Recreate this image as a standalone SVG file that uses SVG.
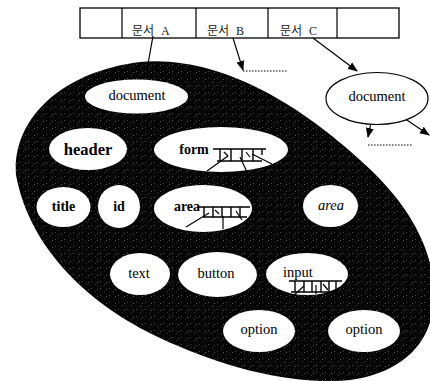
<svg xmlns="http://www.w3.org/2000/svg" width="430" height="381" viewBox="0 0 430 381">
<style>
.lbl{font-family:"Liberation Serif","Times New Roman",serif;font-size:14.5px;fill:#000;text-anchor:middle}
.b{font-weight:bold;font-size:14px}
.ko{font-family:"Liberation Serif","Noto Sans CJK KR",serif;font-size:12px;fill:#222;word-spacing:4px}
.node{fill:#fff}
.ln{stroke:#000;stroke-width:1.2;fill:none}
.lad{stroke:#000;stroke-width:1.4;fill:none}
</style>
<defs>
<marker id="ah" markerWidth="10" markerHeight="10" refX="9" refY="5" orient="auto" markerUnits="userSpaceOnUse">
<path d="M0,1 L10,5 L0,9 Z" fill="#000"/>
</marker>
<pattern id="dots" width="9" height="7" patternUnits="userSpaceOnUse">
<rect x="1" y="1" width="1" height="1" fill="#777"/>
<rect x="5" y="4" width="1" height="1" fill="#555"/>
<rect x="7" y="2" width="1" height="1" fill="#999"/>
</pattern>
</defs>
<rect width="430" height="381" fill="#fff"/>

<g id="array">
<rect x="80" y="8" width="319" height="30" fill="#fff" stroke="#000" stroke-width="1.3"/>
<line x1="122" y1="8" x2="122" y2="38" stroke="#000" stroke-width="1.2"/>
<line x1="196" y1="8" x2="196" y2="38" stroke="#000" stroke-width="1.2"/>
<line x1="268" y1="8" x2="268" y2="38" stroke="#000" stroke-width="1.2"/>
<line x1="337" y1="8" x2="337" y2="38" stroke="#000" stroke-width="1.2"/>
<text class="ko" x="132" y="35">문서 A</text>
<text class="ko" x="207" y="35">문서 B</text>
<text class="ko" x="280" y="35">문서 C</text>
</g>

<g id="blob">
<path d="M16,175 C12,120 60,72 140,62 C220,55 300,105 360,160 C400,195 432,240 434,290 C436,340 405,372 350,380 C290,386 220,366 160,338 C90,305 30,250 16,175 Z" fill="#050505"/>
<path d="M16,175 C12,120 60,72 140,62 C220,55 300,105 360,160 C400,195 432,240 434,290 C436,340 405,372 350,380 C290,386 220,366 160,338 C90,305 30,250 16,175 Z" fill="url(#dots)" opacity="0.6"/>
</g>

<g id="connectors">
<line class="ln" x1="153" y1="36" x2="148" y2="64"/>
<line class="ln" x1="233" y1="38" x2="243" y2="70" marker-end="url(#ah)"/>
<line x1="243" y1="71" x2="288" y2="71" stroke="#000" stroke-width="1" stroke-dasharray="1.5,1.5"/>
<line class="ln" x1="313" y1="38" x2="357" y2="71" marker-end="url(#ah)"/>
<line class="ln" x1="373" y1="113" x2="368" y2="137" marker-end="url(#ah)"/>
<line class="ln" x1="395" y1="112" x2="429" y2="135" marker-end="url(#ah)"/>
<line x1="368" y1="145" x2="413" y2="145" stroke="#000" stroke-width="1" stroke-dasharray="1.5,1.5"/>
</g>

<g id="doc-right">
<ellipse cx="377" cy="98.5" rx="51" ry="26" fill="#fff" stroke="#000" stroke-width="1.2"/>
<text class="lbl" x="377" y="101">document</text>
</g>

<g id="document">
<ellipse class="node" cx="136.5" cy="96.5" rx="51.5" ry="17"/>
<text class="lbl" x="137" y="100">document</text>
</g>
<g id="header">
<ellipse class="node" cx="88" cy="149" rx="39" ry="21"/>
<text class="lbl b" x="88" y="155" style="font-size:16.5px">header</text>
</g>
<g id="form">
<ellipse class="node" cx="221" cy="149.5" rx="67" ry="22.5"/>
<text class="lbl b" x="194" y="154">form</text>
<path class="lad" d="M213,149 H266 M217,161 H262 M220,149 V161 M231,149 V161 M242,149 V161 M253,149 V161 M262,149 V155"/>
<path class="ln" d="M228,156 L207,171 M240,157 L247,172 M252,154 L272,164 M224,152 L228,156 M246,152 L250,157"/>
</g>
<g id="title">
<ellipse class="node" cx="63.5" cy="207" rx="27" ry="20"/>
<text class="lbl b" x="63.5" y="211">title</text>
</g>
<g id="id">
<ellipse class="node" cx="119" cy="206.5" rx="21" ry="21.5"/>
<text class="lbl b" x="119" y="211">id</text>
</g>
<g id="area1">
<ellipse class="node" cx="203" cy="208.5" rx="49" ry="23.5"/>
<text class="lbl b" x="187" y="211">area</text>
<path class="lad" d="M199,207 H250 M203,217 H247 M204,207 V217 M213,207 V217 M222,207 V217 M231,207 V217 M240,207 V217"/>
<path class="ln" d="M209,213 L186,227 M223,216 L223,229 M236,211 L242,220 M215,210 L219,214"/>
</g>
<g id="area2">
<ellipse class="node" cx="330.5" cy="206" rx="27.5" ry="21"/>
<text class="lbl" x="331" y="210" font-style="italic">area</text>
</g>
<g id="text">
<ellipse class="node" cx="140" cy="274" rx="30" ry="21"/>
<text class="lbl" x="139" y="278">text</text>
</g>
<g id="button">
<ellipse class="node" cx="217.5" cy="274.5" rx="39.5" ry="22.5"/>
<text class="lbl" x="216" y="278">button</text>
</g>
<g id="input">
<ellipse class="node" cx="307" cy="274" rx="41" ry="21"/>
<text class="lbl" x="298" y="277">input</text>
<path class="lad" d="M289,281 H342 M291,292 H338 M295,281 V292 M304,281 V292 M312,281 V292 M321,281 V292 M329,281 V292 M336,281 V292"/>
<path class="ln" d="M304,286 L293,296 M316,285 L316,294 M323,284 L328,290"/>
</g>
<g id="option1">
<ellipse class="node" cx="259" cy="331" rx="36" ry="21"/>
<text class="lbl" x="259" y="334">option</text>
</g>
<g id="option2">
<ellipse class="node" cx="364" cy="331" rx="36" ry="21"/>
<text class="lbl" x="364" y="334">option</text>
</g>
</svg>
